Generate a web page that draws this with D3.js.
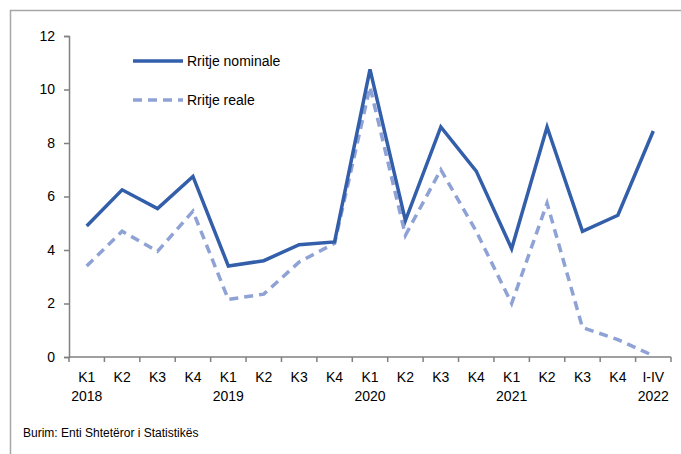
<!DOCTYPE html>
<html>
<head>
<meta charset="utf-8">
<script src="https://cdn.jsdelivr.net/npm/d3@7"></script>
<style>
  body { margin: 0; background: #fff; }
  text { font-family: "Liberation Sans", Arial, sans-serif; fill: #000; }
</style>
</head>
<body>
<svg width="681" height="454"></svg>
<script>
"use strict";

var quarters = ["K1", "K2", "K3", "K4", "K1", "K2", "K3", "K4", "K1", "K2", "K3", "K4", "K1", "K2", "K3", "K4", "I-IV"];
var years = ["2018", "", "", "", "2019", "", "", "", "2020", "", "", "", "2021", "", "", "", "2022"];
var nominale = [4.9, 6.25, 5.55, 6.75, 3.4, 3.6, 4.2, 4.3, 10.75, 5.1, 8.6, 6.95, 4.05, 8.6, 4.7, 5.3, 8.45];
var reale = [3.4, 4.7, 3.95, 5.45, 2.15, 2.35, 3.55, 4.25, 10.1, 4.55, 7.0, 4.7, 2.0, 5.75, 1.1, 0.65, 0.05];
var yTicks = [0, 2, 4, 6, 8, 10, 12];

var svg = d3.select("svg");

// frame
svg.append("rect")
    .attr("x", 10.5).attr("y", 10.5)
    .attr("width", 680).attr("height", 450)
    .attr("fill", "none")
    .attr("stroke", "#a6a6a6")
    .attr("stroke-width", 1.5);

var x = d3.scaleBand()
    .domain(d3.range(quarters.length))
    .range([69, 671]);

var y = d3.scaleLinear()
    .domain([0, 12])
    .range([357, 36]);

// y axis
var yAxis = svg.append("g")
    .attr("transform", "translate(69,0)")
    .call(d3.axisLeft(y).tickValues(yTicks).tickSize(5).tickPadding(9));
yAxis.selectAll("text").style("font-size", "14px");

// x axis with ticks at category boundaries
var xg = svg.append("g").attr("transform", "translate(0,357)");
xg.append("line")
    .attr("x1", 69).attr("x2", 671)
    .attr("stroke", "#808080").attr("stroke-width", 1.5);
xg.selectAll("line.tick")
    .data(d3.range(quarters.length + 1))
    .enter()
    .append("line")
    .classed("tick", true)
    .attr("x1", function (d) { return 69 + d * x.step(); })
    .attr("x2", function (d) { return 69 + d * x.step(); })
    .attr("y1", 0).attr("y2", 5)
    .attr("stroke", "#808080").attr("stroke-width", 1.5);
xg.selectAll("text.q")
    .data(quarters)
    .enter()
    .append("text")
    .classed("q", true)
    .attr("x", function (d, i) { return x(i) + x.bandwidth() / 2; })
    .attr("y", 25)
    .attr("text-anchor", "middle")
    .style("font-size", "14px")
    .text(function (d) { return d; });
xg.selectAll("text.yr")
    .data(years)
    .enter()
    .append("text")
    .classed("yr", true)
    .attr("x", function (d, i) { return x(i) + x.bandwidth() / 2; })
    .attr("y", 44)
    .attr("text-anchor", "middle")
    .style("font-size", "14px")
    .text(function (d) { return d; });

yAxis.select(".domain").attr("stroke", "#808080").attr("stroke-width", 1.5);
yAxis.selectAll(".tick line").attr("stroke", "#808080").attr("stroke-width", 1.5);

var line = d3.line()
    .x(function (d, i) { return x(i) + x.bandwidth() / 2; })
    .y(function (d) { return y(d); });

svg.append("path")
    .datum(reale)
    .attr("d", line)
    .attr("fill", "none")
    .attr("stroke", "#8FA2D6")
    .attr("stroke-width", 3.5)
    .attr("stroke-dasharray", "9,6");

svg.append("path")
    .datum(nominale)
    .attr("d", line)
    .attr("fill", "none")
    .attr("stroke", "#335EAA")
    .attr("stroke-width", 3.5)
    .attr("stroke-linejoin", "miter");

// legend
var legend = svg.append("g");
legend.append("line")
    .attr("x1", 133).attr("x2", 183).attr("y1", 61).attr("y2", 61)
    .attr("stroke", "#335EAA").attr("stroke-width", 3.5);
legend.append("text")
    .attr("x", 187).attr("y", 66)
    .style("font-size", "14px")
    .text("Rritje nominale");
legend.append("line")
    .attr("x1", 133).attr("x2", 183).attr("y1", 100).attr("y2", 100)
    .attr("stroke", "#8FA2D6").attr("stroke-width", 3.5)
    .attr("stroke-dasharray", "9,6");
legend.append("text")
    .attr("x", 187).attr("y", 105)
    .style("font-size", "14px")
    .text("Rritje reale");

// source
svg.append("text")
    .attr("x", 23).attr("y", 437)
    .style("font-size", "12px")
    .text("Burim: Enti Shtetëror i Statistikës");
</script>
</body>
</html>
